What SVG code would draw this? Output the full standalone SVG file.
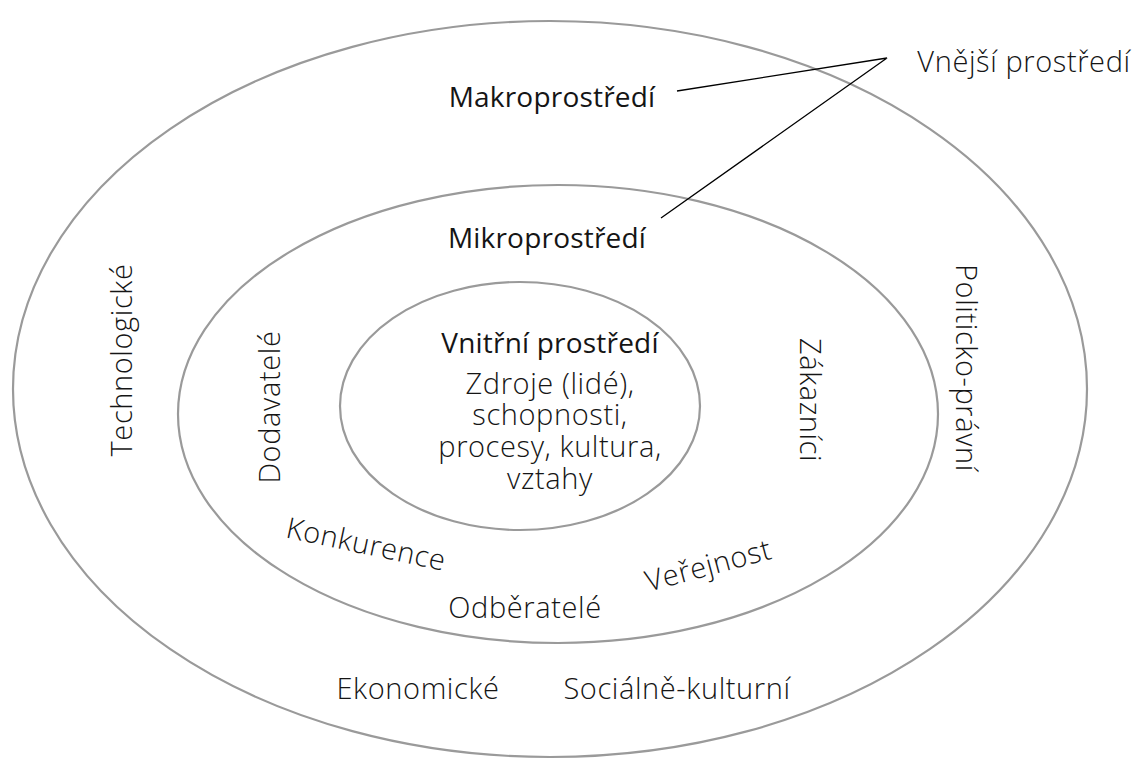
<svg xmlns="http://www.w3.org/2000/svg" width="1141" height="759" viewBox="0 0 1141 759">
  <style>
    .ring { fill: none; stroke: #9a9a9a; stroke-width: 2.2; }
    .lead { stroke: #000; stroke-width: 1.3; fill: none; }
    text { font-family: "Open Sans", "Liberation Sans", sans-serif; fill: #151515; text-anchor: middle; }
    .head { font-size: 28px; font-weight: 400; letter-spacing: 0.2px; }
    .lab { font-size: 29px; font-weight: 300; letter-spacing: 0.6px; }
  </style>
  <rect width="1141" height="759" fill="#fff"/>

  <!-- outer ring: macro-environment -->
  <g id="macro">
    <ellipse class="ring" cx="550" cy="389" rx="537" ry="368"/>
    <text class="head" x="552" y="107">Makroprostředí</text>
    <text class="lab" transform="translate(132 360) rotate(-90)">Technologické</text>
    <text class="lab" transform="translate(956 368) rotate(90)">Politicko-právní</text>
    <text class="lab" x="418" y="699">Ekonomické</text>
    <text class="lab" x="677" y="699">Sociálně-kulturní</text>
  </g>

  <!-- middle ring: micro-environment -->
  <g id="micro">
    <ellipse class="ring" cx="558" cy="414" rx="380" ry="229"/>
    <text class="head" x="547" y="248">Mikroprostředí</text>
    <text class="lab" transform="translate(280 407) rotate(-90)">Dodavatelé</text>
    <text class="lab" transform="translate(800 400) rotate(90)">Zákazníci</text>
    <text class="lab" transform="translate(364 554) rotate(12)">Konkurence</text>
    <text class="lab" transform="translate(711 575) rotate(-15)">Veřejnost</text>
    <text class="lab" x="525" y="618">Odběratelé</text>
  </g>

  <!-- core: internal environment -->
  <g id="internal">
    <ellipse class="ring" cx="520" cy="406" rx="180" ry="124"/>
    <text class="head" x="550" y="353">Vnitřní prostředí</text>
    <text class="lab" x="550" y="394">Zdroje (lidé),<tspan x="550" dy="31">schopnosti,</tspan><tspan x="550" dy="32">procesy, kultura,</tspan><tspan x="550" dy="32">vztahy</tspan></text>
  </g>

  <g id="external">
    <text class="lab" x="1024" y="72">Vnější prostředí</text>
  </g>

  <!-- leader lines from the outer label to both ring titles -->
  <g id="connectors">
    <polyline class="lead" points="677,91 887,58 661,218"/>
  </g>
</svg>
